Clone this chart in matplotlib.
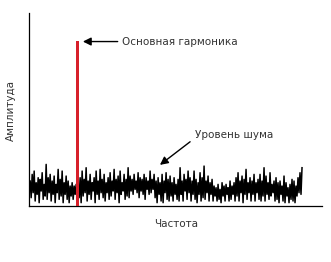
import matplotlib
matplotlib.use("Agg")
import matplotlib.pyplot as plt
import numpy as np

# основная гармоника
harm_freq = 16.7
harm_amp = 99.0

# уровень шума (по точкам слева направо)
noise = [15, 5, 19, 8, 21, 3, 14, 7, 17, 2, 16, 9, 20, 4, 13, 6, 25, 4, 17, 8,
         19, 3, 15, 7, 18, 2, 13, 8, 22, 4, 16, 6, 21, 2, 14, 7, 18, 4, 15, 2,
         12, 6, 14, 4, 12, 7, 13, 3, 12, 5, 17, 2, 21, 6, 16, 8, 23, 3, 15, 7,
         19, 4, 14, 9, 17, 2, 21, 7, 15, 4, 22, 8, 16, 5, 19, 3, 14, 8, 17, 4,
         20, 6, 15, 9, 22, 4, 16, 8, 18, 2, 21, 7, 14, 9, 19, 4, 16, 6, 23, 5,
         18, 9, 16, 7, 19, 10, 15, 8, 20, 5, 17, 9, 16, 7, 19, 4, 17, 10, 15, 7,
         21, 8, 16, 10, 19, 5, 15, 2, 17, 7, 14, 3, 19, 2, 15, 8, 20, 4, 16, 3,
         18, 6, 14, 3, 17, 7, 13, 4, 16, 3, 23, 7, 15, 3, 19, 9, 16, 4, 21, 8,
         17, 3, 15, 7, 21, 4, 16, 2, 14, 7, 20, 3, 17, 5, 24, 4, 15, 8, 18, 3,
         14, 7, 16, 3, 12, 6, 11, 3, 13, 4, 10, 2, 14, 6, 12, 3, 13, 7, 11, 3,
         15, 4, 12, 7, 14, 3, 17, 6, 20, 3, 15, 8, 18, 2, 16, 7, 22, 4, 14, 8,
         17, 3, 15, 7, 19, 3, 14, 8, 16, 4, 19, 3, 15, 6, 23, 3, 18, 7, 14, 4,
         20, 6, 13, 8, 15, 3, 17, 4, 14, 2, 15, 7, 12, 3, 18, 2, 14, 6, 11, 2,
         13, 4, 16, 3, 15, 2, 12, 6, 17, 8, 20, 7, 23]
noise_freq = np.linspace(0.4, 93.2, len(noise))

fig = plt.figure(figsize=(3.31, 2.62), dpi=100)
ax = fig.add_axes([0.0876, 0.2137, 0.885, 0.737])

ax.plot(noise_freq, noise, color="black", lw=1.1)
ax.bar([harm_freq], [harm_amp], width=1.05, color="#d7202a", zorder=3)

ax.set_xlim(0, 100)
ax.set_ylim(0, 116)
ax.set_xticks([])
ax.set_yticks([])
for s in ["top", "right"]:
    ax.spines[s].set_visible(False)
for s in ["left", "bottom"]:
    ax.spines[s].set_linewidth(0.9)

ax.set_xlabel("Частота", fontsize=7.5, color="#333333")
ax.xaxis.set_label_coords(0.502, -0.067)
ax.set_ylabel("Амплитуда", fontsize=7.5, color="#333333")
ax.yaxis.set_label_coords(-0.044, 0.497)

ax.annotate("Основная гармоника", xy=(18.4, 98.8), xytext=(31.7, 98.8),
            fontsize=7.5, color="#333333", va="center",
            arrowprops=dict(arrowstyle="-|>", color="black", lw=1,
                            mutation_scale=12, shrinkA=1, shrinkB=0))
ax.annotate("", xy=(44.7, 24.7), xytext=(55, 38.6),
            arrowprops=dict(arrowstyle="-|>", color="black", lw=1,
                            mutation_scale=12, shrinkA=0, shrinkB=0))
ax.text(56.7, 42.8, "Уровень шума", fontsize=7.5, color="#333333", va="center")

fig.savefig("out.png", dpi=100)
